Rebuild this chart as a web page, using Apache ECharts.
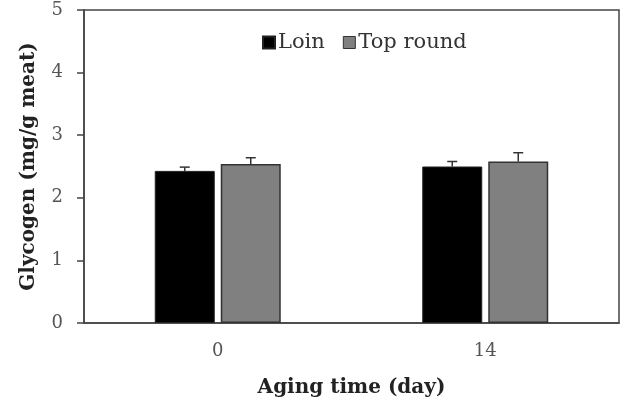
<!DOCTYPE html>
<html><head><meta charset="utf-8">
<script src="https://cdn.jsdelivr.net/npm/echarts@6/dist/echarts.min.js"></script>
<style>html,body{margin:0;padding:0;background:#fff}#c{width:632px;height:406px}</style>
</head><body><div id="c"></div>
<script>
const categories = ['0', '14'];
const loin = [2.43, 2.50];
const loinErr = [0.06, 0.08];
const topRound = [2.54, 2.58];
const topRoundErr = [0.10, 0.14];
const yTicks = [0, 1, 2, 3, 4, 5];

const chart = echarts.init(document.getElementById('c'));
const FONT = '"DejaVu Serif", "Liberation Serif", serif';

function errSeries(name, vals, errs, idx) {
  return {
    type: 'custom', name: name + ' err', silent: true, z: 5,
    data: vals.map((v, i) => [i, v, v + errs[i]]),
    renderItem: function (params, api) {
      const ci = api.value(0);
      const base = api.coord([ci, api.value(1)]);
      const top = api.coord([ci, api.value(2)]);
      const barW = 60, gap = 6;
      const off = (idx === 0 ? -1 : 1) * (barW / 2 + gap / 2);
      const x = base[0] + off;
      const cap = 5;
      const st = { stroke: '#333', lineWidth: 1.5 };
      return { type: 'group', children: [
        { type: 'line', shape: { x1: x, y1: base[1], x2: x, y2: top[1] }, style: st },
        { type: 'line', shape: { x1: x - cap, y1: top[1], x2: x + cap, y2: top[1] }, style: st }
      ]};
    }
  };
}

chart.setOption({
  animation: false,
  backgroundColor: '#fff',
  grid: { left: 84, right: 13, top: 10, bottom: 83, show: true, borderColor: '#444', borderWidth: 1.5 },
  legend: {
    top: 27, left: 257, itemWidth: 12, itemHeight: 12, itemGap: 18,
    textStyle: { fontFamily: FONT, fontSize: 21, color: '#333', padding: [0, 0, 0, -2] },
    data: [
      { name: 'Loin', icon: 'rect', itemStyle: { color: '#000' } },
      { name: 'Top round', icon: 'rect', itemStyle: { color: '#808080', borderColor: '#333', borderWidth: 1 } }
    ]
  },
  xAxis: {
    type: 'category', data: categories,
    axisLine: { lineStyle: { color: '#444', width: 1.5 } },
    axisTick: { show: false },
    axisLabel: { fontFamily: FONT, fontSize: 18, color: '#555', margin: 19 },
    name: 'Aging time (day)', nameLocation: 'middle', nameGap: 55,
    nameTextStyle: { fontFamily: FONT, fontSize: 20, fontWeight: 'bold', color: '#222' }
  },
  yAxis: {
    type: 'value', min: yTicks[0], max: yTicks[yTicks.length - 1], interval: 1,
    splitLine: { show: false },
    axisLine: { show: true, lineStyle: { color: '#444', width: 1.5 } },
    axisTick: { show: true, length: 7, lineStyle: { color: '#444', width: 1.5 } },
    axisLabel: { fontFamily: FONT, fontSize: 18, color: '#555', margin: 21 },
    name: 'Glycogen (mg/g meat)', nameLocation: 'middle', nameGap: 45, nameRotate: 90,
    nameTextStyle: { fontFamily: FONT, fontSize: 20, fontWeight: 'bold', color: '#222' }
  },
  series: [
    { name: 'Loin', type: 'bar', data: loin, barWidth: 60, barGap: '10%',
      itemStyle: { color: '#000', borderColor: '#222', borderWidth: 1 } },
    { name: 'Top round', type: 'bar', data: topRound, barWidth: 60,
      itemStyle: { color: '#808080', borderColor: '#333', borderWidth: 1.5 } },
    errSeries('Loin', loin, loinErr, 0),
    errSeries('Top round', topRound, topRoundErr, 1)
  ]
});
</script></body></html>
